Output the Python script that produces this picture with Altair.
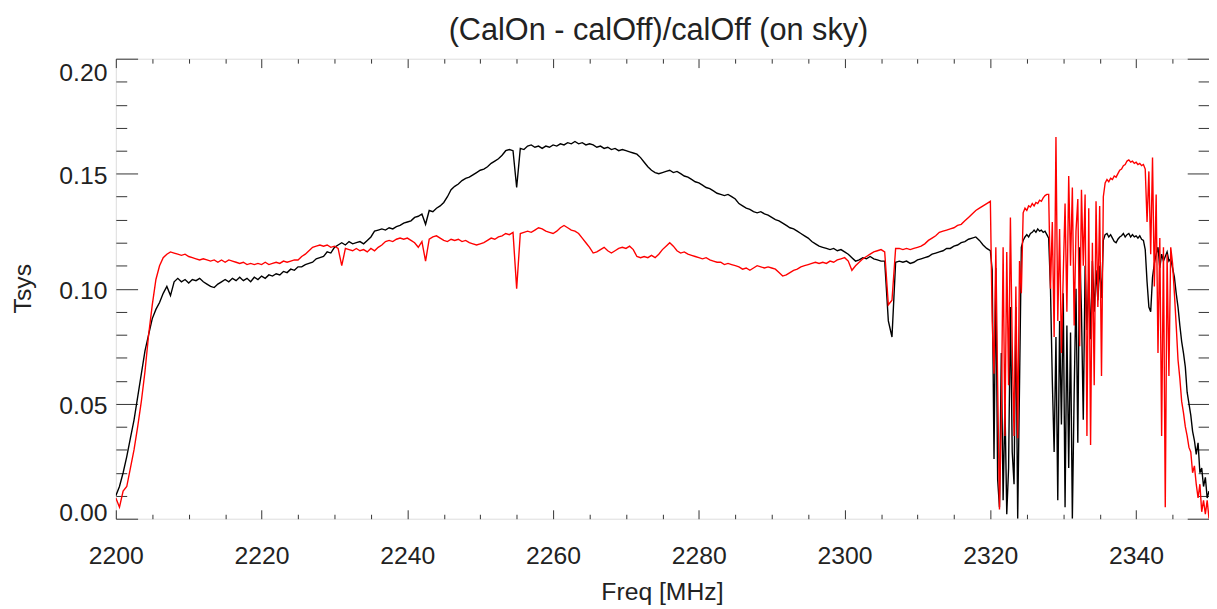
import altair as alt
import numpy as np
import pandas as pd

# ---------------- data (Tsys values in units of 1e-3) ----------------
# channel grid: 0.5 MHz steps 2200-2320, 0.25 MHz steps 2320.25-2350
freq_main = np.round(np.arange(2200.0, 2320.0 + 0.001, 0.5), 2)
freq_rfi = np.round(np.arange(2320.25, 2350.0 + 0.001, 0.25), 2)

black_a = [10, 14, 20, 27, 35, 43, 53, 63, 73, 80, 87, 91, 94, 98, 101, 97,
           103, 104.5, 103, 104, 102.5, 104, 103.5, 104.5, 103,
           102, 101, 100.5, 102,
           103, 104, 103, 104.5, 103.5, 105, 103.5, 104.5, 103, 105, 104, 105.5,
           104.5, 106, 105.5, 106.5, 106, 107.5, 107, 108.5, 108, 109.5,
           109.5, 110.5, 111, 111.5, 113, 113.5, 114, 116, 115.5, 118]
black_b = [119, 120, 119, 120.5, 119.5, 120, 120.5, 119.5, 121, 122.5,
           125, 125.5, 126, 125.5, 126.5, 126, 127, 127.5, 128.5, 129,
           129.5, 131, 131.5, 132.5, 128, 134, 133.5, 135, 136, 137.5,
           140, 143, 144.5, 145.5, 147, 148, 148.5, 149.5, 150.5, 151.5,
           152, 153, 154.5, 155.5, 156.5, 158, 160, 160.5, 160, 144,
           161, 160.5, 162, 162.5, 161.5, 162, 161, 162, 161.5, 162.5,
           162, 163, 162.5, 163.5, 163, 164, 163, 163.5, 162.5, 163,
           162.5, 161.5, 162, 161, 161.5, 160.5, 161, 160, 160.5, 160,
           159.5, 159, 158.5, 157, 155, 153, 151.5, 150.5, 150, 150.5]
black_c = [151, 151.5, 150.5, 151, 150, 149, 148.5, 147.5, 146.5, 146,
           145, 144, 143.5, 142.5, 141.5, 141, 140.5, 141, 140, 139,
           137, 136, 135, 134.5, 133.5, 133, 133.5, 132.5, 132, 131,
           130, 129.5, 128.5, 127.5, 126.5, 126, 125, 124, 123, 122,
           120.5, 119.5, 118.5, 118, 117.5, 117, 117.5, 116.5, 117, 116,
           115, 113.5, 112, 112.5, 113.5, 113, 114, 113, 112.5, 112,
           112, 86, 79, 111.5, 112, 111.5, 112, 111, 111.5, 112.5,
           113, 113.5, 114, 115, 115.5, 116, 116.5, 117.5, 117.5, 118.5,
           119, 120, 120.5, 121.5, 122, 122.5, 121, 119, 117.5, 116.5]
black_rfi = [108, 26, 109, 17, 5, 72, 8, 50, 2, 22, 92, 29, 15, 92, 0, 58, 118,
             121, 122.5, 123.5, 122.5, 124, 124.5, 125.5, 124.5, 126, 125, 125.5,
             124.5, 125, 123.5,
             122, 100, 60, 29, 79, 8, 86, 41, 98, 5, 84, 22, 81, 0, 55, 100, 33,
             118, 90, 43, 110, 82, 105, 78, 112, 90, 108, 95, 110, 96, 121,
             123.5, 124, 122.5, 123.5, 122, 120.5, 120, 121.5, 122.5, 123, 124,
             122.5, 123.5, 124, 122.5, 123.5, 122.5, 123, 122, 123, 121.5, 121, 117,
             103, 92, 90, 105, 111, 115, 118, 109, 115, 112, 114, 116, 112, 113,
             109, 105, 98, 92, 84, 77, 72, 66, 55, 50, 45, 38, 34, 28, 33, 20,
             22, 14, 18, 9, 12]

red_a = [9, 5, 12, 14, 22, 30, 40, 51, 64, 80, 93, 104, 110, 113.5, 115, 116,
         115.5, 115, 114.5, 115, 114, 113.5, 113, 112.5, 113,
         112.5, 112, 112.5, 111.5,
         112.5, 111.5, 112.5, 112, 111.5, 111, 111.5, 110.5, 111, 110.5, 111, 110.5,
         111.5, 110.5, 111, 111.5, 111, 112, 111.5, 112, 112.5, 112.5,
         114, 115, 116.5, 118, 118.5, 119, 118.5, 119, 118, 118.5]
red_b = [117.5, 110, 117.5, 117, 116.5, 117.5, 116.5, 117, 116, 117.5,
         116.5, 118, 119, 120.5, 121, 120.5, 121.5, 122, 121.5, 122,
         121, 120, 118, 120.5, 112, 121.5, 122.5, 123, 122, 121,
         120.5, 121.5, 121, 121.5, 120.5, 121, 120, 119.5, 119, 119.5,
         120, 121, 122, 121.5, 122.5, 123, 124, 123.5, 124.5, 100,
         124, 124.5, 125, 124.5, 125.5, 126.5, 126, 125, 124.5, 124,
         125, 126.5, 127.5, 126.5, 125.5, 125, 124, 122, 120, 118,
         115.5, 116, 117, 118, 116.5, 115.5, 116.5, 117.5, 118, 117.5,
         118.5, 117, 114, 113.5, 114, 113.5, 114.5, 113.5, 115, 117]
red_c = [118.5, 120, 118.5, 116.5, 115.5, 116, 115, 114.5, 114, 113.5,
         113, 113.5, 112.5, 112, 111.5, 111.5, 110.5, 111, 110.5, 110,
         109.5, 108.5, 109, 108, 109, 110, 109.5, 109, 109.5, 109,
         108.5, 107, 105.5, 106, 107, 108, 108.5, 109.5, 110, 110.5,
         111, 111.5, 111, 111.5, 111, 112, 111.5, 112.5, 113, 113.5,
         112, 108, 110, 111.5, 113, 114, 115, 116, 116.5, 117,
         116, 93, 95, 117.5, 117.5, 117, 117.5, 117, 117.5, 118,
         118.5, 119.5, 121, 122, 123, 124.5, 125, 125.5, 126, 126.5,
         127.5, 128, 129.5, 131, 132.5, 134, 135, 136, 137, 138]
red_rfi = [86, 63, 118, 58, 4, 43, 118, 36, 116, 58, 131, 75, 36, 101, 35, 112, 98,
           133, 135, 134, 136, 135.5, 137, 136, 137.5, 137, 138.5, 138, 139.5,
           140.5, 141,
           141, 100, 129, 79, 166, 86, 126, 72, 106, 137, 90, 149, 110, 144, 84,
           125, 139, 75, 143, 110, 141, 36, 135, 32, 120, 58, 138, 92, 136, 62, 140,
           146, 147.5, 146.5, 148, 147.5, 149, 148.5, 150, 151.5, 152, 153.5, 154,
           155.5, 156, 155, 155.5, 154.5, 155, 154, 154.5, 153.5, 154, 152,
           129, 151, 115, 157, 101, 141, 72, 122, 36, 118, 5, 115, 62, 118, 111,
           98, 84, 69, 61, 51, 46, 40, 36, 31, 29, 20, 23, 15, 9, 15, 3, 8, 2, 8, 0]

x_major = [2200, 2220, 2240, 2260, 2280, 2300, 2320, 2340]
x_minor = [2205, 2210, 2215, 2225, 2230, 2235, 2245, 2250, 2255, 2265, 2270,
           2275, 2285, 2290, 2295, 2305, 2310, 2315, 2325, 2330, 2335, 2345]
y_major = [0.0, 0.05, 0.10, 0.15, 0.20]
y_minor = [0.01, 0.02, 0.03, 0.04, 0.06, 0.07, 0.08, 0.09, 0.11, 0.12, 0.13,
           0.14, 0.16, 0.17, 0.18, 0.19]

TITLE = "(CalOn - calOff)/calOff (on sky)"

freqs = np.concatenate([freq_main, freq_rfi])
black = np.array(black_a + black_b + black_c + black_rfi, dtype=float) / 1000.0
red = np.array(red_a + red_b + red_c + red_rfi, dtype=float) / 1000.0
assert len(freqs) == len(black) == len(red), (len(freqs), len(black), len(red))

df = pd.DataFrame({"freq": freqs, "black": black, "red": red})

# ---------------- chart ----------------
FONT = "Liberation Sans"
TXT = "#222222"
TCK = "#333333"
W, H = 1105, 465

xs = alt.Scale(domain=[2200, 2350], nice=False, zero=False)
ys = alt.Scale(domain=[0, 0.2], nice=False, zero=False)


def tick_axis(orient, values, size, **kw):
    return alt.Axis(orient=orient, values=values, labels=False, domain=False,
                    grid=False, ticks=True, tickSize=size, offset=-size,
                    tickColor=TCK, tickWidth=1, **kw)


x_lab = alt.Axis(orient="bottom", values=x_major, format="d", ticks=False,
                 tickSize=0, domain=False, grid=False, labelFontSize=25,
                 labelPadding=45, labelBaseline="alphabetic", labelFlush=False,
                 labelColor=TXT, labelFont=FONT, title="Freq [MHz]",
                 titleFontSize=25, titleFontWeight="normal", titleColor=TXT,
                 titleFont=FONT, titleX=552, titleY=82, titleAlign="center",
                 titleBaseline="alphabetic")
y_lab = alt.Axis(orient="left", values=y_major, format=".2f", ticks=False,
                 tickSize=0, domain=False, grid=False, labelFontSize=25,
                 labelPadding=9, labelFlush=False, labelOffset=2,
                 labelBaseline={"condition": [
                     {"test": "datum.value >= 0.199", "value": "top"},
                     {"test": "datum.value <= 0.001", "value": "alphabetic"}],
                     "value": "middle"},
                 labelColor=TXT, labelFont=FONT, title="Tsys",
                 titleFontSize=25, titleFontWeight="normal", titleColor=TXT,
                 titleFont=FONT, titleX=-86, titleY=232, titleAngle=270,
                 titleAlign="center", titleBaseline="alphabetic")

x_top = tick_axis("top", x_major, 9, title=TITLE, titleFontSize=31,
                  titleFont=FONT, titleFontWeight="normal", titleColor=TXT,
                  titleX=548, titleY=-28, titleAlign="center", titleAngle=0,
                  titleBaseline="alphabetic")

axes = [
    (x_lab, y_lab),
    (tick_axis("bottom", x_major, 9, title=None), tick_axis("left", y_major, 22, title=None)),
    (tick_axis("bottom", x_minor, 4.5, title=None), tick_axis("left", y_minor, 11, title=None)),
    (x_top, tick_axis("right", y_major, 22, title=None)),
    (tick_axis("top", x_minor, 4.5, title=None), tick_axis("right", y_minor, 11, title=None)),
]
fields = ["black", "red", "black", "black", "black"]
colors = ["#000000", "#ff0000", "#000000", "#000000", "#000000"]
opac = [1, 1, 0, 0, 0]

layers = []
for (xa, ya), fld, col, op in zip(axes, fields, colors, opac):
    layers.append(
        alt.Chart(df).mark_line(color=col, strokeWidth=1.4, opacity=op,
                                clip=True).encode(
            x=alt.X("freq:Q", scale=xs, axis=xa),
            y=alt.Y(f"{fld}:Q", scale=ys, axis=ya),
        )
    )

chart = alt.layer(*layers).resolve_axis(
    x="independent", y="independent"
).properties(
    width=W, height=H,
    autosize=alt.AutoSizeParams(type="none"),
    padding={"left": 109, "top": 48, "right": 0, "bottom": 86},
).configure_view(
    stroke=TCK, strokeWidth=1
).configure(background="white")

chart.save("out.html", embed_options={"renderer": "svg", "actions": False})
